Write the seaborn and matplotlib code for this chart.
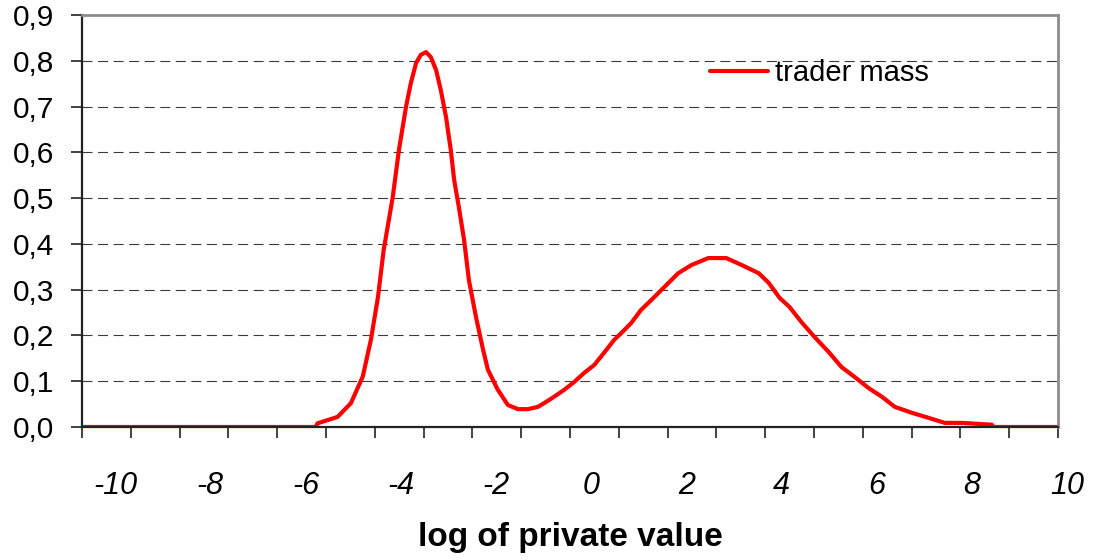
import numpy as np
import pandas as pd
import seaborn as sns
import matplotlib.pyplot as plt

# log of private value (x) and trader mass (y)
log_value = [-10.70, -5.79, -5.75, -5.33, -5.05, -4.80, -4.63, -4.48, -4.36, -4.17,
             -4.04, -3.89, -3.79, -3.68, -3.58, -3.47, -3.37, -3.26, -3.16, -3.05,
             -2.95, -2.88, -2.78, -2.67, -2.57, -2.42, -2.27, -2.17, -1.96, -1.75,
             -1.54, -1.33, -1.12, -0.99, -0.78, -0.57, -0.36, -0.15, 0.06, 0.27,
             0.48, 0.63, 0.84, 1.05, 1.26, 1.54, 1.83, 2.11, 2.46, 2.84,
             3.16, 3.52, 3.73, 3.96, 4.17, 4.42, 4.69, 4.99, 5.26, 5.54,
             5.83, 6.11, 6.38, 6.74, 7.09, 7.43, 7.79, 8.42, 8.46, 9.81]
trader_mass = [0.0, 0.0, 0.008, 0.022, 0.052, 0.11, 0.19, 0.284, 0.387, 0.502,
               0.605, 0.70, 0.751, 0.795, 0.813, 0.819, 0.808, 0.78, 0.736, 0.677,
               0.605, 0.54, 0.48, 0.408, 0.321, 0.24, 0.168, 0.125, 0.081, 0.048,
               0.039, 0.039, 0.044, 0.052, 0.066, 0.081, 0.098, 0.118, 0.135, 0.162,
               0.19, 0.205, 0.227, 0.256, 0.277, 0.306, 0.336, 0.354, 0.369, 0.369,
               0.354, 0.336, 0.315, 0.282, 0.262, 0.229, 0.197, 0.164, 0.131, 0.109,
               0.085, 0.066, 0.044, 0.031, 0.02, 0.009, 0.009, 0.005, 0.0, 0.0]
x_labels = [-10, -8, -6, -4, -2, 0, 2, 4, 6, 8, 10]
y_ticks = [0.0, 0.1, 0.2, 0.3, 0.4, 0.5, 0.6, 0.7, 0.8, 0.9]
grid_levels = [0.1, 0.2, 0.3, 0.4, 0.5, 0.6, 0.7, 0.8]

df = pd.DataFrame({"log_value": log_value, "trader_mass": trader_mass})

sns.set_style("white")
plt.rcParams['font.family'] = ['Liberation Sans', 'DejaVu Sans']
plt.rcParams['text.color'] = 'black'
plt.rcParams['axes.labelcolor'] = 'black'
plt.rcParams['xtick.color'] = 'black'
plt.rcParams['ytick.color'] = 'black'

fig = plt.figure(figsize=(11.07, 5.6), dpi=100)
ax = fig.add_axes([82 / 1107, 133 / 560, 976 / 1107, 412 / 560])

for g in grid_levels:
    ax.axhline(g, color='#3a3a3a', lw=0.8, ls=(0, (9, 5)), zorder=1)

sns.lineplot(data=df, x="log_value", y="trader_mass", color='#ff0000', lw=3,
             label="trader mass", ax=ax, zorder=3)

x_min, x_max = -10.70, 9.81
ax.set_xlim(x_min, x_max)
ax.set_ylim(0, 0.9)

# x axis: tick marks on the category grid, labels placed separately
ax.set_xticks([])
ax.set_xticks(np.linspace(x_min, x_max, 21), minor=True)
ax.tick_params(axis='x', which='minor', direction='out', length=8, width=1.2,
               color='#222222', bottom=True, labelbottom=False)
for v in x_labels:
    ax.text(v, -0.143, str(v), transform=ax.get_xaxis_transform(), ha='center',
            va='center', fontsize=22, style='italic', clip_on=False)

ax.set_yticks(y_ticks)
ax.set_yticklabels([f"{t:.1f}".replace('.', ',') for t in y_ticks])
ax.tick_params(axis='y', direction='out', length=8, width=1.2, color='#222222',
               labelcolor='black', left=True, pad=12, labelsize=21.5)

ax.set_xlabel("log of private value", fontsize=24, fontweight='bold', va='center')
ax.xaxis.set_label_coords(0.5, -0.267)
ax.set_ylabel("")

for side in ['left', 'bottom']:
    ax.spines[side].set_color('#222222')
    ax.spines[side].set_linewidth(1.6)
for side in ['top', 'right']:
    ax.spines[side].set_visible(True)
    ax.spines[side].set_color('#8c8c8c')
    ax.spines[side].set_linewidth(2)
for s in ax.spines.values():
    s.set_zorder(4)

ax.legend(loc='center left', bbox_to_anchor=(0.643, 0.859), frameon=False,
          fontsize=21, handlelength=2.0, handletextpad=0.25, borderpad=0,
          borderaxespad=0)

plt.savefig('out.png', dpi=100)
plt.close()
